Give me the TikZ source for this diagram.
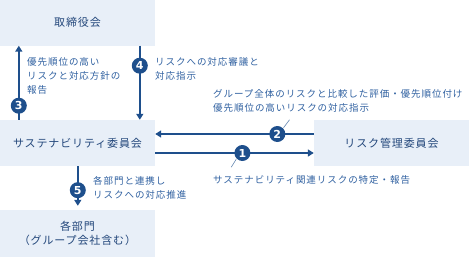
\documentclass[tikz,border=0pt]{standalone}
\usepackage{fontspec}
\setmainfont{Noto Sans CJK JP}
\newfontfamily\numfont{DejaVu Sans}
\usetikzlibrary{arrows.meta}
\definecolor{boxfill}{HTML}{E8EFF8}
\definecolor{flow}{HTML}{1E4F8C}
\definecolor{boxtext}{HTML}{23477B}
\definecolor{note}{HTML}{2F60A0}

\begin{document}
\begin{tikzpicture}[x=1pt,y=-1pt,
  body/.style={fill=boxfill,minimum width=155pt,minimum height=46pt,inner sep=0pt,
    text=boxtext,align=center,font=\fontsize{11}{14}\selectfont\addfontfeature{LetterSpace=8}},
  flowline/.style={flow,line width=1.5pt,-{Triangle[length=6pt,width=7pt]}},
  num/.style={circle,fill=flow,text=white,minimum size=16pt,inner sep=0pt,
    font=\numfont\bfseries\fontsize{11}{11}\selectfont},
  memo/.style={text=note,align=left,inner sep=0pt,
    font=\fontsize{9.5}{14}\selectfont\addfontfeature{LetterSpace=10}},
  tick/.style={flow!70,line width=.6pt}]
  \useasboundingbox (0,0) rectangle (469,257);

  \node[body] (board) at (77.5,22.5) {取締役会};
  \node[body] (sus) at (77.5,143) {サステナビリティ委員会};
  \node[body] (risk) at (391.5,143) {リスク管理委員会};
  \node[body,minimum height=47pt] (dept) at (77.5,233.5) {各部門\\（グループ会社含む）};

  \draw[flowline] ([xshift=19pt]sus.north west) -- ([xshift=19pt]board.south west)
    node[num,pos=.19] (n3) {3};
  \draw[flowline] ([xshift=140pt]board.south west) -- ([xshift=140pt]sus.north west)
    node[num,pos=.27] (n4) {4};
  \draw[flowline] ([yshift=9pt]risk.west) -- ([yshift=9pt]sus.east)
    node[num,pos=.23] (n2) {2};
  \draw[flowline] ([yshift=-10pt]sus.east) -- ([yshift=-10pt]risk.west)
    node[num,pos=.55] (n1) {1};
  \draw[flowline,shorten >=4pt] ([xshift=78pt]sus.south west) -- ([xshift=78pt]dept.north west)
    node[num,pos=.55] (n5) {5};

  \draw[tick] (n2.north east) -- ++(6,-8);
  \draw[tick] (n1.south west) -- ++(-5,8);

  \node[memo,anchor=north west] (m3) at (27,57) {優先順位の高い\\リスクと対応方針の\\報告};
  \node[memo,anchor=north west] (m4) at (155,57) {リスクへの対応審議と\\対応指示};
  \node[memo,anchor=north west] (m2) at (213,89) {グループ全体のリスクと比較した評価・優先順位付け\\優先順位の高いリスクの対応指示};
  \node[memo,anchor=north west] (m1) at (213,175) {サステナビリティ関連リスクの特定・報告};
  \node[memo,anchor=north west] (m5) at (93,176) {各部門と連携し\\リスクへの対応推進};
\end{tikzpicture}
\end{document}
